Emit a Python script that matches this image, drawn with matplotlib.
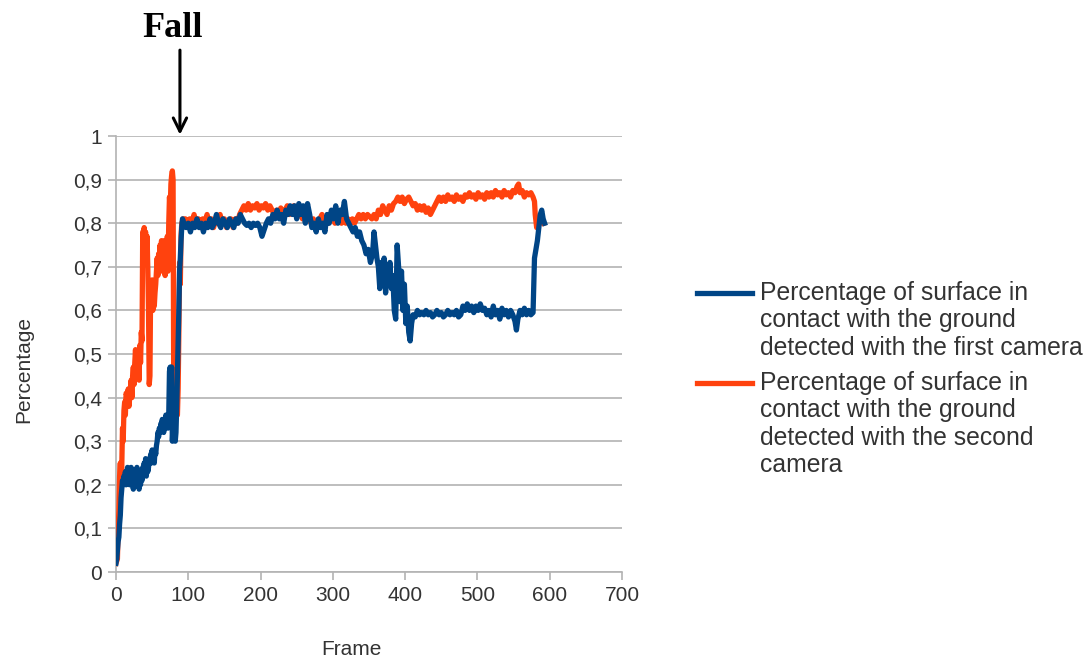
import matplotlib
matplotlib.use("Agg")
import matplotlib.pyplot as plt
from matplotlib.lines import Line2D
from matplotlib.ticker import FuncFormatter

plt.rcParams["font.family"] = ["Liberation Sans", "DejaVu Sans"]

# orange series: second camera (frame)
cam2_frame = [0, 2, 3, 4, 5, 6, 7, 8, 9, 10, 11, 12, 13, 14, 16, 17, 18, 20, 21, 22, 23, 24, 25, 26, 27, 28,
              29, 30, 31, 32, 33, 34, 35, 36, 37, 38, 39, 40, 41, 42, 43, 44, 45, 46, 47, 48, 49, 50, 51, 52,
              53, 54, 55, 56, 57, 58, 59, 60, 61, 62, 63, 64, 65, 66, 67, 68, 69, 70, 71, 72, 73, 74, 75, 76,
              77, 78, 79, 80, 81, 82, 84, 85, 86, 87, 88, 89, 90, 91,
              93, 96, 99, 102, 105, 108, 111, 114, 117, 120, 123, 126, 129, 132, 135, 138, 141, 144, 147, 150,
              153, 156, 159, 162, 165, 168, 171, 174, 177, 180, 183, 186, 189, 192, 195, 198, 201, 204, 207,
              210, 213, 216, 219, 222, 225, 228, 231, 234, 237, 240, 243, 246, 249, 252, 255, 258, 261, 264,
              267, 270, 273, 276, 279, 282, 285, 288, 291, 294, 297, 300, 303, 306, 309, 312, 315, 318, 321,
              324, 327, 330, 333, 336, 339, 342, 345, 348, 351, 354, 357, 360, 363, 366, 369, 372, 375, 378,
              381, 384, 387, 390, 393, 396, 399, 402, 405, 408, 411, 414, 417, 420, 423, 426, 429, 432, 435,
              438, 441, 444, 447, 450, 453, 456, 459, 462, 465, 468, 471, 474, 477, 480, 483, 486, 489, 492,
              495, 498, 501, 504, 507, 510, 513, 516, 519, 522, 525, 528, 531, 534, 537, 540, 543, 546, 549,
              552, 555, 557, 559, 562, 565, 568, 571, 574, 577, 579, 580, 582, 584, 587, 590, 592]
cam2_value = [0.02, 0.03, 0.10, 0.14, 0.22, 0.25, 0.19, 0.24, 0.33, 0.30, 0.37, 0.39, 0.36, 0.41, 0.40, 0.42,
              0.38, 0.42, 0.44, 0.40, 0.45, 0.47, 0.43, 0.48, 0.51, 0.46, 0.50, 0.45, 0.49, 0.44, 0.52, 0.48,
              0.55, 0.53, 0.78, 0.76, 0.79, 0.77, 0.78, 0.74, 0.77, 0.70, 0.60, 0.43, 0.45, 0.66, 0.62, 0.67,
              0.60, 0.65, 0.61, 0.64, 0.66, 0.69, 0.72, 0.68, 0.73, 0.70, 0.75, 0.71, 0.76, 0.69, 0.73, 0.70,
              0.76, 0.68, 0.74, 0.71, 0.77, 0.69, 0.80, 0.86, 0.83, 0.89, 0.91, 0.92, 0.90, 0.36, 0.40, 0.37,
              0.38, 0.36, 0.42, 0.55, 0.71, 0.66, 0.77, 0.80,
              0.81, 0.81, 0.79, 0.81, 0.80, 0.82, 0.80, 0.81, 0.79, 0.81, 0.80, 0.82, 0.80, 0.81, 0.79, 0.81,
              0.80, 0.82, 0.80, 0.81, 0.79, 0.80, 0.81, 0.79, 0.81, 0.80, 0.82, 0.83, 0.84, 0.83, 0.845, 0.83,
              0.84, 0.835, 0.845, 0.83, 0.84, 0.835, 0.845, 0.83, 0.84, 0.83, 0.82, 0.83, 0.82, 0.835, 0.82,
              0.83, 0.84, 0.82, 0.83, 0.84, 0.82, 0.83, 0.82, 0.81, 0.83, 0.82, 0.81, 0.80, 0.81, 0.79, 0.80,
              0.81, 0.82, 0.80, 0.81, 0.80, 0.82, 0.81, 0.80, 0.82, 0.81, 0.80, 0.81, 0.80, 0.81, 0.80, 0.81,
              0.80, 0.81, 0.82, 0.81, 0.82, 0.81, 0.82, 0.815, 0.81, 0.82, 0.81, 0.83, 0.82, 0.84, 0.83, 0.82,
              0.84, 0.83, 0.845, 0.85, 0.86, 0.85, 0.86, 0.845, 0.855, 0.86, 0.85, 0.84, 0.845, 0.83, 0.84,
              0.83, 0.84, 0.825, 0.835, 0.82, 0.83, 0.84, 0.85, 0.86, 0.85, 0.86, 0.85, 0.865, 0.855, 0.86,
              0.85, 0.865, 0.855, 0.86, 0.85, 0.865, 0.86, 0.87, 0.86, 0.865, 0.855, 0.87, 0.86, 0.865, 0.855,
              0.87, 0.86, 0.87, 0.86, 0.875, 0.865, 0.87, 0.86, 0.875, 0.865, 0.87, 0.86, 0.875, 0.87, 0.885,
              0.89, 0.87, 0.875, 0.86, 0.87, 0.865, 0.87, 0.86, 0.85, 0.82, 0.79, 0.81, 0.80, 0.81, 0.80]

# blue series: first camera
cam1_frame = [0, 1, 2, 3, 4, 5, 6, 7, 8, 9, 10, 11, 12, 13, 14, 15, 16, 17, 18, 19, 20, 21, 22, 23, 24, 25,
              26, 27, 28, 29, 30, 31, 32, 33, 34, 35, 36, 37, 38, 39, 40, 41, 42, 43, 44, 45, 46, 47, 48, 49,
              50, 51, 52, 53, 54, 55, 56, 57, 58, 59, 60, 61, 62, 63, 64, 65, 66, 67, 68, 69, 70, 71, 72, 73,
              74, 75, 76, 77, 78, 79, 80, 81, 82, 83, 84, 85, 86, 87, 88, 89, 90, 91, 92,
              94, 97, 100, 103, 106, 109, 112, 115, 118, 121, 124, 127, 130, 133, 136, 139, 142, 145, 148,
              151, 154, 157, 160, 163, 166, 169, 172, 175, 178, 181, 184, 187, 190, 193, 196, 199, 202, 205,
              208, 211, 214, 217, 220, 223, 226, 229, 232, 235, 238, 241, 244, 247, 250, 253, 256, 259, 262,
              265, 268, 271, 274, 277, 280, 283, 286, 289, 292, 295, 298, 301, 304, 307, 310, 313, 316, 319,
              322, 325, 328, 331, 334, 337, 340, 343, 346, 349, 352, 355, 357, 359, 361, 363, 365, 367, 369,
              371, 373, 375, 377, 379, 381, 383, 385, 387, 389, 391, 393, 395, 397, 399, 401, 403, 405, 407,
              409, 411, 414, 417, 420, 423, 426, 429, 432, 435, 438, 441, 444, 447, 450, 453, 456, 459, 462,
              465, 468, 471, 474, 477, 480, 483, 486, 489, 492, 495, 498, 501, 504, 507, 510, 513, 516, 519,
              522, 525, 528, 531, 534, 537, 540, 543, 546, 549, 552, 554, 556, 559, 562, 565, 568, 571, 574,
              577, 579, 581, 583, 585, 587, 589, 591, 593]
cam1_value = [0.02, 0.03, 0.05, 0.07, 0.08, 0.11, 0.13, 0.17, 0.19, 0.21, 0.20, 0.22, 0.21, 0.23, 0.20, 0.22,
              0.24, 0.21, 0.23, 0.20, 0.22, 0.24, 0.21, 0.23, 0.19, 0.22, 0.20, 0.23, 0.21, 0.24, 0.20, 0.22,
              0.19, 0.21, 0.20, 0.23, 0.21, 0.24, 0.22, 0.25, 0.23, 0.26, 0.22, 0.25, 0.23, 0.24, 0.26, 0.25,
              0.27, 0.25, 0.28, 0.26, 0.27, 0.25, 0.28, 0.27, 0.29, 0.30, 0.32, 0.31, 0.33, 0.32, 0.34, 0.33,
              0.35, 0.34, 0.32, 0.35, 0.33, 0.36, 0.34, 0.35, 0.33, 0.36, 0.46, 0.47, 0.44, 0.47, 0.30, 0.34,
              0.31, 0.33, 0.30, 0.32, 0.38, 0.45, 0.51, 0.60, 0.69, 0.72, 0.76, 0.79, 0.81,
              0.80, 0.79, 0.80, 0.78, 0.80, 0.79, 0.81, 0.79, 0.80, 0.78, 0.80, 0.79, 0.81, 0.79, 0.80, 0.82,
              0.80, 0.79, 0.81, 0.80, 0.79, 0.81, 0.80, 0.79, 0.81, 0.80, 0.82, 0.81, 0.80, 0.795, 0.80, 0.79,
              0.80, 0.795, 0.80, 0.79, 0.77, 0.785, 0.80, 0.81, 0.80, 0.82, 0.81, 0.83, 0.81, 0.82, 0.80,
              0.83, 0.82, 0.84, 0.82, 0.84, 0.81, 0.845, 0.82, 0.84, 0.80, 0.845, 0.82, 0.79, 0.80, 0.78,
              0.81, 0.79, 0.80, 0.78, 0.82, 0.80, 0.83, 0.81, 0.84, 0.80, 0.83, 0.82, 0.85, 0.81, 0.80, 0.79,
              0.78, 0.79, 0.77, 0.78, 0.76, 0.75, 0.73, 0.74, 0.71, 0.73, 0.78, 0.75, 0.72, 0.70, 0.65, 0.71,
              0.67, 0.72, 0.64, 0.70, 0.66, 0.71, 0.65, 0.68, 0.60, 0.58, 0.75, 0.70, 0.62, 0.69, 0.60, 0.66,
              0.57, 0.61, 0.55, 0.53, 0.57, 0.59, 0.585, 0.60, 0.59, 0.595, 0.59, 0.60, 0.59, 0.595, 0.585,
              0.59, 0.60, 0.59, 0.595, 0.585, 0.59, 0.60, 0.59, 0.595, 0.59, 0.60, 0.585, 0.59, 0.61, 0.60,
              0.615, 0.60, 0.61, 0.595, 0.61, 0.60, 0.615, 0.60, 0.605, 0.59, 0.60, 0.585, 0.61, 0.59, 0.60,
              0.58, 0.605, 0.59, 0.60, 0.585, 0.60, 0.59, 0.575, 0.555, 0.58, 0.60, 0.59, 0.605, 0.59, 0.60,
              0.59, 0.595, 0.72, 0.74, 0.76, 0.79, 0.82, 0.83, 0.81, 0.80]

labels = ["Percentage of surface in\ncontact with the ground\ndetected with the first camera",
          "Percentage of surface in\ncontact with the ground\ndetected with the second\ncamera"]
blue = "#004586"
orange = "#ff420e"
grey = "#b3b3b3"
txt = "#333333"

fig = plt.figure(figsize=(10.9, 6.59), dpi=100)
ax = fig.add_axes([0.1064, 0.132, 0.4642, 0.6616])

ax.plot(cam2_frame, cam2_value, color=orange, lw=3.8, zorder=3)
ax.plot(cam1_frame, cam1_value, color=blue, lw=3.8, zorder=4)

ax.set_xlim(0, 700)
ax.set_ylim(0, 1)
ax.set_xticks(range(0, 701, 100))
ax.set_yticks([i / 10 for i in range(11)])
ax.yaxis.set_major_formatter(FuncFormatter(lambda v, p: ("%g" % round(v, 1)).replace(".", ",")))
ax.grid(axis="y", color=grey, lw=1.2)
ax.set_axisbelow(True)
for s in ["top", "right"]:
    ax.spines[s].set_visible(False)
for s in ["left", "bottom"]:
    ax.spines[s].set_color(grey)
    ax.spines[s].set_linewidth(1.2)
ax.tick_params(color=grey, width=1.2, length=6, labelsize=15, labelcolor=txt, pad=4)

ax.set_xlabel("Frame", fontsize=15, color=txt)
ax.set_ylabel("Percentage", fontsize=15, color=txt)
ax.xaxis.set_label_coords(0.466, -0.155)
ax.yaxis.set_label_coords(-0.163, 0.465)

# "Fall" marker above the plot
ax.text(78, 1.228, "Fall", ha="center", va="baseline", fontsize=26, fontweight="bold",
        family="Liberation Serif", clip_on=False)
ax.annotate("", xy=(88.5, 1.003), xytext=(88.5, 1.197), annotation_clip=False,
            arrowprops=dict(arrowstyle="->", color="black", lw=2.2, mutation_scale=24, shrinkA=0, shrinkB=0))

# legend drawn by hand so the key sits on the first text line
for col, lab, ytop in zip([blue, orange], labels, [293, 383]):
    yf = 1 - ytop / 659
    fig.add_artist(Line2D([697 / 1090, 752 / 1090], [yf, yf], color=col, lw=3.8, transform=fig.transFigure))
    fig.text(760 / 1090, 1 - (ytop - 12) / 659, lab, fontsize=17.8, color=txt, va="top", ha="left",
             linespacing=1.18)

fig.savefig("out.png", dpi=100, facecolor="white")
